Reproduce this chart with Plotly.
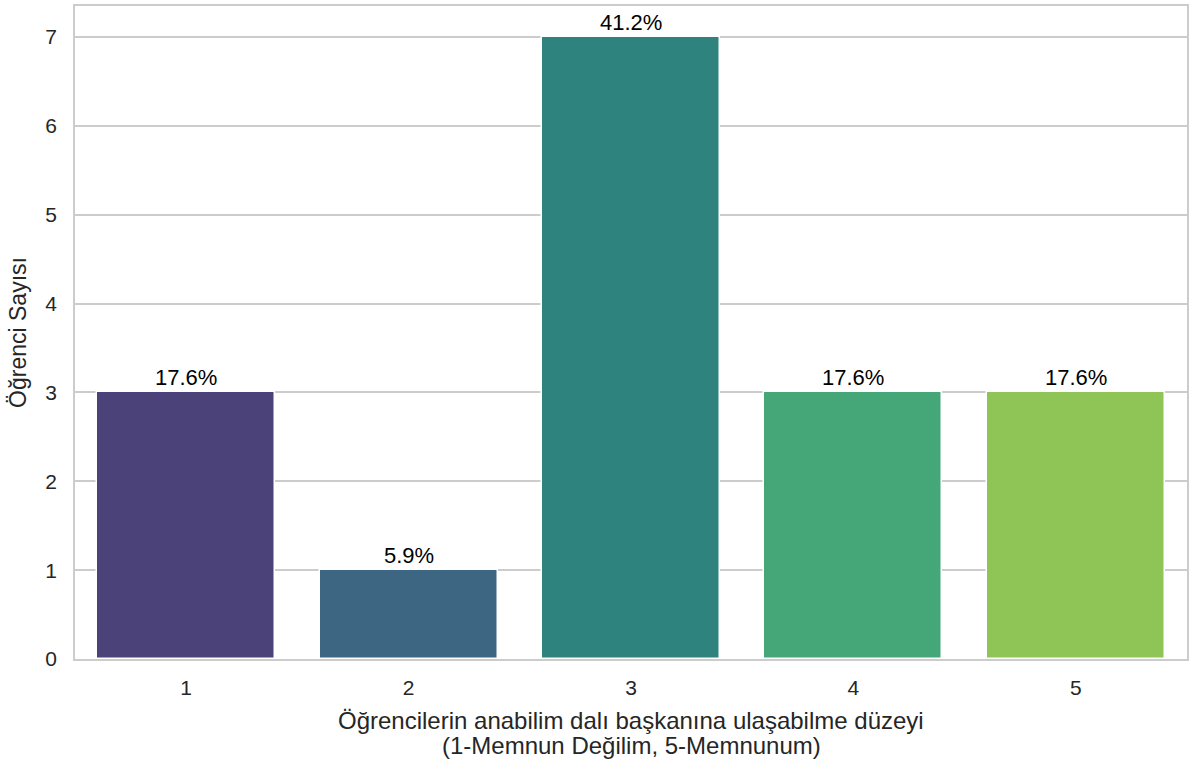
import plotly.graph_objects as go

categories = ["1", "2", "3", "4", "5"]
counts = [3, 1, 7, 3, 3]
colors = ["#4b427a", "#3d6682", "#2f837f", "#45a778", "#8fc556"]
x_title_lines = ["Öğrencilerin anabilim dalı başkanına ulaşabilme düzeyi",
                 "(1-Memnun Değilim, 5-Memnunum)"]
y_title = "Öğrenci Sayısı"

total = sum(counts)
labels = [f"{c / total * 100:.1f}%" for c in counts]
xpos = list(range(len(categories)))

FONT = "Liberation Sans, Arial, sans-serif"
TXT = "#262626"

fig = go.Figure()
fig.add_trace(go.Bar(
    x=xpos, y=counts, width=0.8,
    marker=dict(color=colors, line=dict(color="white", width=1.5)),
    hoverinfo="skip",
))

for xi, yi, lab in zip(xpos, counts, labels):
    fig.add_annotation(x=xi, y=yi, text=lab, showarrow=False,
                       xanchor="center", yanchor="bottom", yshift=0,
                       font=dict(family=FONT, size=22, color="black"))

# x-axis title (two lines, matplotlib-like line spacing)
for i, line in enumerate(x_title_lines):
    fig.add_annotation(xref="paper", yref="paper", x=0.5, y=0, text=line,
                       showarrow=False, xanchor="center", yanchor="middle",
                       yshift=-61 - 25 * i,
                       font=dict(family=FONT, size=24, color=TXT))

fig.update_layout(
    width=1193, height=761,
    margin=dict(l=75, r=4, t=6, b=102),
    paper_bgcolor="white", plot_bgcolor="white",
    showlegend=False,
    font=dict(family=FONT, color=TXT),
    bargap=0,
)
fig.update_xaxes(
    range=[-0.5, 4.5], tickmode="array", tickvals=xpos, ticktext=categories,
    showgrid=False, zeroline=False, showline=True, mirror=True,
    linecolor="#cccccc", linewidth=1.5, ticks="",
    tickfont=dict(size=21, color=TXT), ticklabelstandoff=9,
)
fig.update_yaxes(
    range=[0, 7.35], tickmode="array", tickvals=list(range(0, 8)),
    showgrid=True, gridcolor="#cccccc", gridwidth=1.5, zeroline=False,
    showline=True, mirror=True, linecolor="#cccccc", linewidth=1.5, ticks="",
    tickfont=dict(size=21, color=TXT), ticklabelstandoff=12,
    title=dict(text=y_title, font=dict(size=23, color=TXT), standoff=12),
)

fig.write_html("out.html", config={"displayModeBar": False},
               post_script="document.body.style.margin='0';document.body.style.padding='0';")
